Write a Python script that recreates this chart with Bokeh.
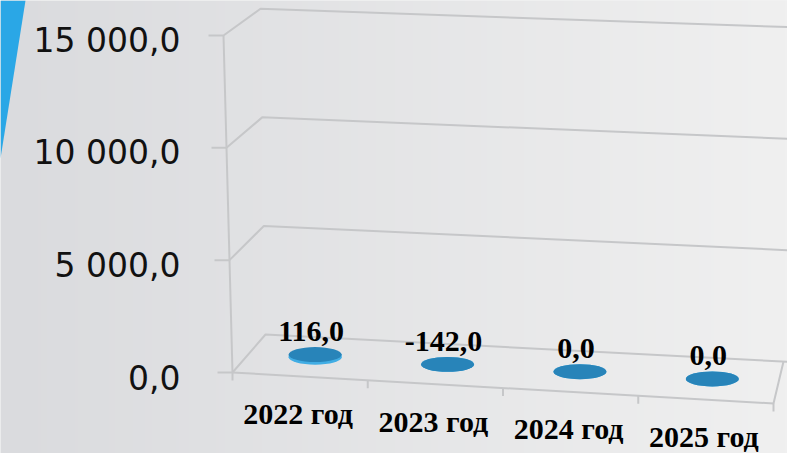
import numpy as np
from bokeh.plotting import figure
from bokeh.models import Range1d, ColumnDataSource
from bokeh.embed import file_html
from bokeh.resources import INLINE
from bokeh.core.properties import value

# ---------------- data ----------------
categories = ["2022 год", "2023 год", "2024 год", "2025 год"]
values = [116.0, -142.0, 0.0, 0.0]
value_labels = ["116,0", "-142,0", "0,0", "0,0"]
y_ticks = [0, 5000, 10000, 15000]
y_tick_labels = ["0,0", "5 000,0", "10 000,0", "15 000,0"]

# ---------------- layout / projection (style constants) ----------------
W, H = 787, 453
PX_PER_CAT = 135.25          # px per category along the front edge
X0_PX = 232                  # px of front-left corner
Y0_PX = 372                  # px (from top) of value 0 at front-left corner
VMAX = 15000.0
K = 337.0 / VMAX             # px per value unit

x_range = Range1d(-X0_PX / PX_PER_CAT, (W - X0_PX) / PX_PER_CAT)
y_range = Range1d(-(H - Y0_PX) / K, Y0_PX / K)

# floor corners (px offsets from front-left, y down) and vertical vectors per VMAX
FL, FR, BL, BR = np.array([0, 0.]), np.array([541, 31.]), np.array([33, -38.]), np.array([551, -11.])
HFL, HFR, HBL, HBR = np.array([-9, -337.]), np.array([-2, -345.]), np.array([-5, -325.7]), np.array([0, -334.5])
NCAT = len(categories)


def proj(c, d, v):
    t = c / NCAT
    fl = (1 - t) * FL + t * FR
    bl = (1 - t) * BL + t * BR
    hf = (1 - t) * HFL + t * HFR
    hb = (1 - t) * HBL + t * HBR
    p = (1 - d) * fl + d * bl + (v / VMAX) * ((1 - d) * hf + d * hb)
    return p[0] / PX_PER_CAT, -p[1] / K


def px_to_data(fx, fy):
    return (fx - X0_PX) / PX_PER_CAT, (Y0_PX - fy) / K


p = figure(width=W, height=H, x_range=x_range, y_range=y_range,
           output_backend="svg", toolbar_location=None,
           x_axis_location=None, y_axis_location=None,
           min_border=0, outline_line_color=None)
p.grid.visible = False
p.background_fill_color = "#e6e7e8"
p.border_fill_color = "#e6e7e8"

# background gradient
n = 256
ramp = np.linspace(0, 1, n)
c0 = np.array([218, 219, 222.])
c1 = np.array([240, 240, 240.])
cols = (c0[None, :] * (1 - ramp[:, None]) + c1[None, :] * ramp[:, None]).astype(np.uint32)
img = np.empty((2, n), dtype=np.uint32)
rgba = (255 << 24) | (cols[:, 2] << 16) | (cols[:, 1] << 8) | cols[:, 0]
img[:, :] = rgba[None, :]
p.image_rgba(image=[img], x=x_range.start, y=y_range.start,
             dw=x_range.end - x_range.start, dh=y_range.end - y_range.start)

# blue accent at top-left corner
tx, ty = zip(px_to_data(0, 0), px_to_data(25, 0), px_to_data(0, 158))
p.patch(list(tx), list(ty), fill_color="#2aa7e6", line_color=None)

GRID = "#c6c7c9"
# walls: gridlines (tick, left wall diagonal, back wall line)
xs, ys = [], []
tick_len = 15 / PX_PER_CAT
for v in y_ticks:
    a = proj(0, 0, v)
    b = proj(0, 1, v)
    c = proj(NCAT, 1, v)
    ext = 0.1
    xs.append([a[0] - tick_len, a[0], b[0], c[0] + ext])
    ys.append([a[1], a[1], b[1], c[1] + (c[1] - b[1]) / (c[0] - b[0]) * ext])
p.multi_line(xs, ys, line_color=GRID, line_width=2)

# vertical axis line
a0, a1 = proj(0, 0, 0), proj(0, 0, max(y_ticks))
p.line([a0[0], a1[0]], [a0[1], a1[1]], line_color=GRID, line_width=2)

# floor front and right edges
f0, f1, f2 = proj(0, 0, 0), proj(NCAT, 0, 0), proj(NCAT, 1, 0)
p.line([f0[0], f1[0], f2[0]], [f0[1], f1[1], f2[1]], line_color=GRID, line_width=2)

# category tick marks (down from front edge)
ctx0, cty0, cty1 = [], [], []
for i in range(NCAT + 1):
    q = proj(i, 0, 0)
    ctx0.append(q[0]); cty0.append(q[1]); cty1.append(q[1] - 8 / K)
p.segment(ctx0, cty0, ctx0, cty1, line_color=GRID, line_width=2)

# bars (flat cylinders)
base = [proj(i + 0.5, 0.5, 0) for i in range(NCAT)]
top = [proj(i + 0.5, 0.5, max(0.0, v)) for i, v in enumerate(values)]
src = ColumnDataSource(dict(
    bx=[b[0] for b in base], by=[b[1] for b in base],
    tx=[t[0] for t in top], ty=[t[1] for t in top],
    lab=value_labels,
))
p.ellipse(x="bx", y="by", width=53, height=15, width_units="screen", height_units="screen",
          source=src, fill_color="#41ade4", line_color=None)
p.segment(x0="bx", y0="by", x1="tx", y1="ty", line_width=53, line_cap="butt",
          line_color="#41ade4", source=src)
p.ellipse(x="tx", y="ty", width=53, height=15, width_units="screen", height_units="screen",
          source=src, fill_color="#2884b9", line_color=None)

# value labels
p.text(x="tx", y="ty", text="lab", source=src, x_offset=-4, y_offset=-23,
       text_align="center", text_baseline="middle",
       text_font=value("Liberation Serif"), text_font_style="bold",
       text_font_size="30px", text_color="#000000")

# category labels
cat_pts = [proj(i + 0.5, 0, 0) for i in range(NCAT)]
p.text(x=[q[0] for q in cat_pts], y=[q[1] for q in cat_pts], text=categories,
       x_offset=-2, y_offset=37, text_align="center", text_baseline="middle",
       text_font=value("Liberation Serif"), text_font_style="bold",
       text_font_size="30px", text_color="#000000")

# value axis labels
ax_x = proj(0, 0, 0)[0]
p.text(x=[ax_x] * len(y_ticks), y=[proj(0, 0, v)[1] for v in y_ticks], text=y_tick_labels,
       x_offset=-52, y_offset=5, text_align="right", text_baseline="middle",
       text_font=value("DejaVu Sans"), text_font_size="33px", text_color="#111111")

open("out.html", "w").write(file_html(p, INLINE))
